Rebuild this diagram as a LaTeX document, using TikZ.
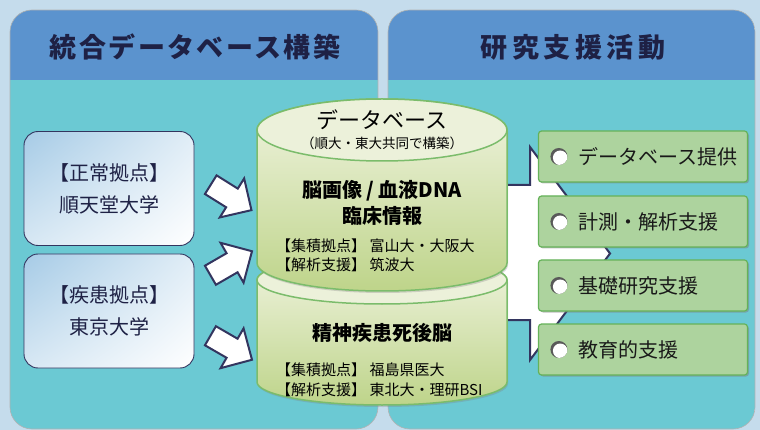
\documentclass[tikz,border=0pt]{standalone}
\usepackage{fontspec}
\setmainfont{Noto Sans CJK JP}
\newfontfamily\titlefontA[LetterSpace=9]{Noto Sans CJK JP}
\newfontfamily\titlefontB[LetterSpace=17]{Noto Sans CJK JP}
\usepackage{tikz}
\usetikzlibrary{positioning, calc, shapes.arrows, shadows, shadings}
\definecolor{bgblue}{RGB}{197, 220, 236}
\definecolor{headblue}{RGB}{91, 147, 206}
\definecolor{panelteal}{RGB}{107, 201, 211}
\definecolor{titlenavy}{RGB}{30, 33, 69}
\definecolor{navy}{RGB}{51, 53, 95}
\definecolor{siteblue}{RGB}{166, 203, 230}
\definecolor{cyltop}{RGB}{240, 244, 224}
\definecolor{cylbot}{RGB}{190, 212, 138}
\definecolor{cylcap}{RGB}{236, 241, 218}
\definecolor{cylline}{RGB}{123, 188, 107}
\definecolor{boxgreen}{RGB}{173, 211, 158}
\definecolor{boxline}{RGB}{101, 178, 89}
\tikzset{
  paneltitle/.style={
    font=\bfseries\fontsize{27}{30}\selectfont, text=titlenavy
  },
  sitebox/.style={
    draw=navy, line width=0.9pt, rounded corners=14pt,
    minimum width=170pt, minimum height=114pt, align=center,
    upper left=siteblue, upper right=siteblue!35, lower left=siteblue!45, lower right=white,
    font=\fontsize{20}{32}\selectfont, text=titlenavy
  },
  blockarrow/.style={
    single arrow, draw=navy, fill=white, line width=2pt, inner xsep=0pt, inner ysep=10pt,
    minimum height=48pt, minimum width=46pt, single arrow head extend=12pt
  },
  flowline/.style={
    draw=navy, fill=white, line width=2pt, line join=miter
  },
  cylbody/.style={
    top color=cyltop, bottom color=cylbot, draw=cylline, line width=1.5pt,
    drop shadow={opacity=0.3, shadow xshift=1pt, shadow yshift=-2pt}
  },
  dbtext/.style={font=\fontsize{15}{19.5}\selectfont, align=left, anchor=west, inner sep=0pt},
  supportbox/.style={
    draw=boxline, fill=boxgreen, line width=1.2pt, rounded corners=3pt,
    minimum width=209pt, minimum height=51pt,
    drop shadow={opacity=0.5, shadow xshift=1.5pt, shadow yshift=-1.5pt}
  },
  supporttext/.style={font=\fontsize{20}{24}\selectfont, anchor=west, inner sep=0pt, text=black!90},
  bullet/.style={circle, minimum size=17pt, inner sep=0pt, fill=gray!70!black,
    path picture={\fill[white] ([shift={(1.3pt,-1.3pt)}]path picture bounding box.center) circle (7.3pt);}}
}
\begin{document}
\begin{tikzpicture}[x=1pt, y=-1pt]
\useasboundingbox (0,0) rectangle (760,430);
\fill[bgblue] (0,0) rectangle (760,430);

% two panels
\foreach \xa/\xb in {10/378, 388/755}{
  \begin{scope}
    \clip[rounded corners=22pt] (\xa,10) rectangle (\xb,429);
    \fill[panelteal] (\xa,10) rectangle (\xb,429);
    \fill[headblue] (\xa,10) rectangle (\xb,80);
  \end{scope}
  \draw[rounded corners=22pt, gray!60, line width=0.6pt] (\xa,10) rectangle (\xb,429);
}
\node[paneltitle] (lefttitle) at (195,47) {\titlefontA 統合データベース構築};
\node[paneltitle] (righttitle) at (573,47) {\titlefontB 研究支援活動};

% big arrow behind the database
\draw[flowline] (450,185) -- (530,185) -- (530,147) -- (610,253.5) -- (530,360) -- (530,320) -- (450,320) -- cycle;

% lower cylinder
\path[cylbody] (257,280) -- (257,382) arc[start angle=180, end angle=360, x radius=125pt, y radius=23pt]
  -- (507,280) arc[start angle=0, end angle=180, x radius=125pt, y radius=24pt] -- cycle;
\draw[cylline, line width=1.5pt, fill=cylcap] (382,280) ellipse [x radius=125pt, y radius=24pt];
% upper cylinder
\path[cylbody] (257,130) -- (257,263) arc[start angle=180, end angle=360, x radius=125pt, y radius=28pt]
  -- (507,130) arc[start angle=0, end angle=180, x radius=125pt, y radius=31pt] -- cycle;
\draw[cylline, line width=1.5pt, fill=cylcap] (382,130) ellipse [x radius=125pt, y radius=31pt];

\node[font=\fontsize{22}{24}\selectfont] (dbname) at (382,120) {データベース};
\node[font=\fontsize{13.5}{15}\selectfont, below=3pt of dbname, inner sep=0pt] (dbnote) {（順大・東大共同で構築）};
\node[font=\bfseries\fontsize{20}{26}\selectfont, align=center] (dbdata) at (382,203) {脳画像 / 血液DNA\\臨床情報};
\node[dbtext] (dbsites) at (276,255.5) {【集積拠点】 富山大・大阪大\\【解析支援】 筑波大};
\node[font=\bfseries\fontsize{20}{24}\selectfont] (brain) at (382,333) {精神疾患死後脳};
\node[dbtext] (brainsites) at (276,380) {【集積拠点】 福島県医大\\【解析支援】 東北大・理研BSI};

% support activities
\foreach \y/\name/\txt in {156.5/s1/データベース提供, 221.5/s2/計測・解析支援, 285.5/s3/基礎研究支援, 349.5/s4/教育的支援}{
  \node[supportbox] (\name) at (643,\y) {};
  \node[bullet] (\name b) at ([xshift=21pt]\name.west) {};
  \node[supporttext] (\name t) at ([xshift=40pt]\name.west) {\txt};
}

% sites
\node[sitebox] (normal) at (109,188.5) {【正常拠点】\\順天堂大学};
\node[sitebox] (disease) at (109,311) {【疾患拠点】\\東京大学};

\node[blockarrow, rotate=-32] (arrow1) at ($(normal.east)+(32,6)$) {};
\node[blockarrow, rotate=30] (arrow2) at ($(disease.east)+(32,-45)$) {};
\node[blockarrow, rotate=-30] (arrow3) at ($(disease.east)+(32,34)$) {};
\end{tikzpicture}
\end{document}
